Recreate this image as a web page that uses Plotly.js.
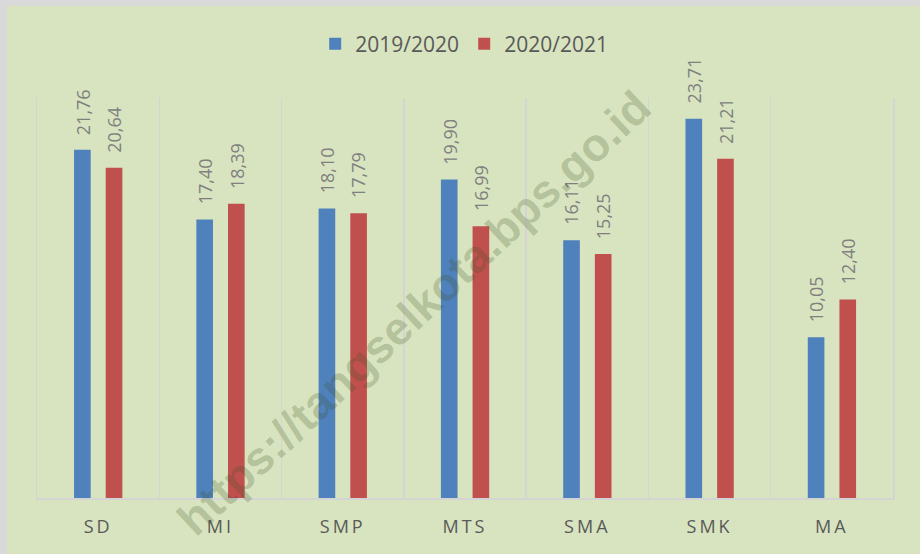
<!DOCTYPE html>
<html>
<head>
<meta charset="utf-8">
<script src="https://cdn.plot.ly/plotly-3.0.1.min.js"></script>
<style>
  html, body { margin: 0; padding: 0; background: #d9d9d9; width: 920px; height: 554px; overflow: hidden; }
  #chart { position: absolute; left: 7px; top: 6px; width: 913px; height: 548px; }
  .xtick text { letter-spacing: 3px; }
</style>
</head>
<body>
<div id="chart"></div>
<script>
const categories = ["SD", "MI", "SMP", "MTS", "SMA", "SMK", "MA"];
const seriesNames = ["2019/2020", "2020/2021"];
const values2019 = [21.76, 17.40, 18.10, 19.90, 16.11, 23.71, 10.05];
const values2020 = [20.64, 18.39, 17.79, 16.99, 15.25, 21.21, 12.40];
const watermarkText = "https://tangselkota.bps.go.id";

const colors = ["#4f81bd", "#c0504d"];
const barWidth = 0.136;
const offsets = [-0.197, 0.062];
const plotWidthPx = 913 - 30 - 27;
const catPx = plotWidthPx / categories.length;

const allValues = [values2019, values2020];
const traces = allValues.map((vals, i) => ({
  type: "bar",
  name: seriesNames[i],
  x: categories,
  y: vals,
  width: barWidth,
  offset: offsets[i],
  marker: { color: colors[i] },
  hoverinfo: "x+y"
}));

const fmt = v => v.toFixed(2).replace(".", ",");
const annotations = [];
allValues.forEach((vals, i) => {
  const shift = (offsets[i] + barWidth / 2) * catPx;
  vals.forEach((v, j) => {
    annotations.push({
      x: categories[j], y: v, xref: "x", yref: "y",
      text: fmt(v), showarrow: false, textangle: -90,
      xanchor: "center", yanchor: "bottom",
      xshift: shift, yshift: 13,
      font: { family: "Open Sans", size: 18, color: "#808080" }
    });
  });
});
annotations.push({
  xref: "paper", yref: "paper", x: 0.44, y: 0.462,
  text: "<b>" + watermarkText + "</b>", showarrow: false, textangle: -43,
  font: { family: "Liberation Sans", size: 46, color: "rgba(60,80,36,0.24)" }
});

const layout = {
  width: 913, height: 548,
  margin: { l: 30, r: 27, t: 92, b: 56, pad: 0 },
  paper_bgcolor: "#d8e4bf",
  plot_bgcolor: "#d8e4bf",
  barmode: "overlay",
  showlegend: true,
  legend: {
    orientation: "h", x: 0.325, xanchor: "left", y: 1.135, yanchor: "middle",
    font: { family: "Open Sans", size: 21, color: "#595959" },
    bgcolor: "rgba(0,0,0,0)", entrywidth: 104, entrywidthmode: "pixels"
  },
  xaxis: {
    type: "category",
    tickson: "boundaries",
    showgrid: true, gridcolor: "#d4d4d4", gridwidth: 1.5,
    showline: true, linecolor: "#d4d4d4", linewidth: 1.5,
    ticks: "", ticklabelstandoff: 12,
    tickfont: { family: "Open Sans", size: 18, color: "#595959" },
    zeroline: false, fixedrange: true
  },
  yaxis: {
    range: [0, 25],
    showgrid: false, zeroline: false,
    showticklabels: false, ticks: "",
    showline: true, mirror: true, linecolor: "#d4d4d4", linewidth: 1.5,
    fixedrange: true
  },
  annotations: annotations
};

Plotly.newPlot("chart", traces, layout, { displayModeBar: false, staticPlot: true });
</script>
</body>
</html>
